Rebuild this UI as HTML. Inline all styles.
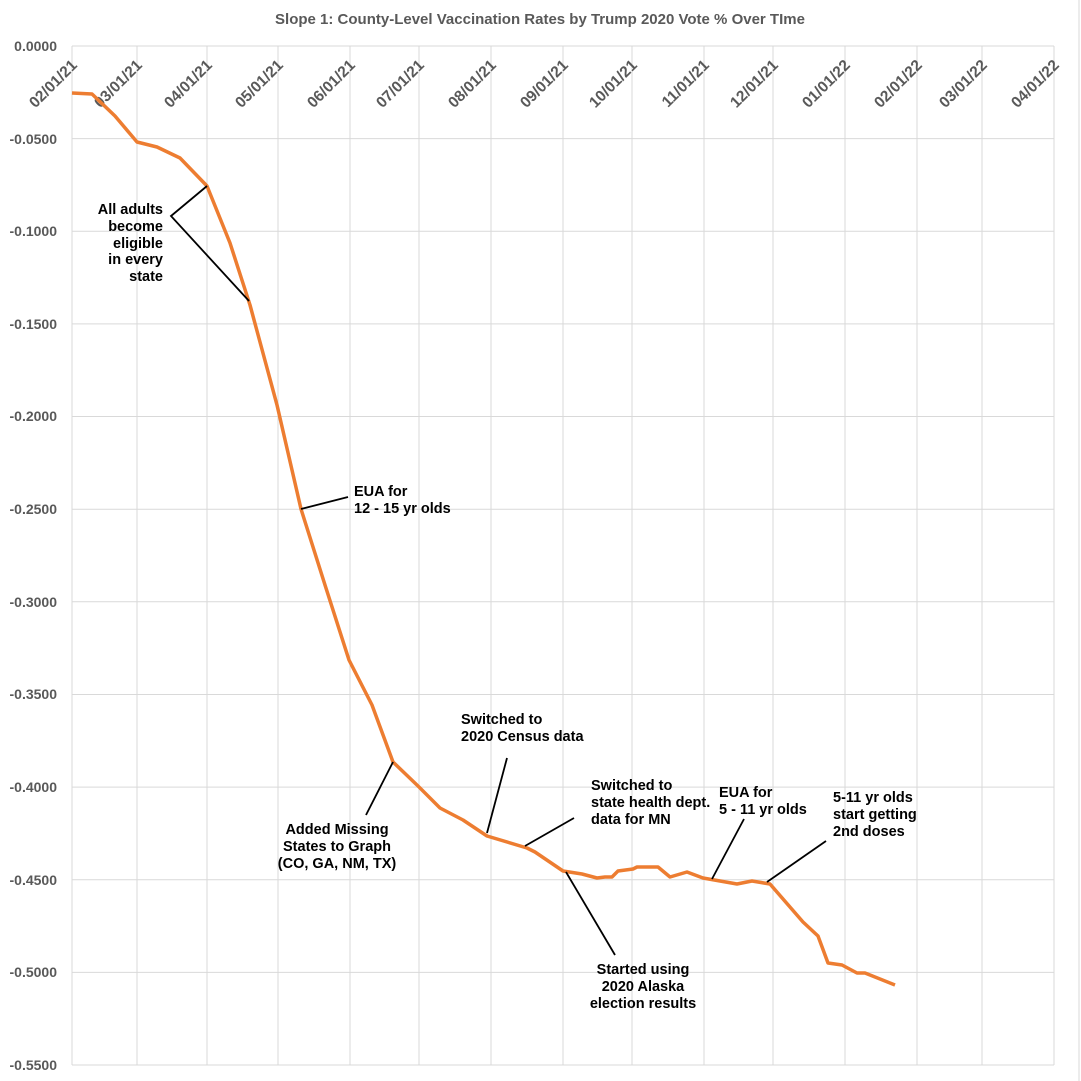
<!DOCTYPE html>
<html><head><meta charset="utf-8"><style>
html,body{margin:0;padding:0;background:#fff}
svg{display:block;font-family:"Liberation Sans",sans-serif}
</style></head><body>
<svg width="1081" height="1081" viewBox="0 0 1081 1081" xmlns="http://www.w3.org/2000/svg">
<rect x="0" y="0" width="1081" height="1081" fill="#fff"/>
<line x1="1079" y1="0" x2="1079" y2="1081" stroke="#d9d9d9" stroke-width="1"/>
<text x="540" y="24" text-anchor="middle" font-size="15" font-weight="bold" fill="#595959">Slope 1: County-Level Vaccination Rates by Trump 2020 Vote % Over TIme</text>
<g stroke="#d9d9d9" stroke-width="1">
<line x1="72" y1="46" x2="1054" y2="46"/><line x1="72" y1="138.6" x2="1054" y2="138.6"/><line x1="72" y1="231.3" x2="1054" y2="231.3"/><line x1="72" y1="323.9" x2="1054" y2="323.9"/><line x1="72" y1="416.5" x2="1054" y2="416.5"/><line x1="72" y1="509.2" x2="1054" y2="509.2"/><line x1="72" y1="601.8" x2="1054" y2="601.8"/><line x1="72" y1="694.5" x2="1054" y2="694.5"/><line x1="72" y1="787.1" x2="1054" y2="787.1"/><line x1="72" y1="879.7" x2="1054" y2="879.7"/><line x1="72" y1="972.4" x2="1054" y2="972.4"/><line x1="72" y1="1065" x2="1054" y2="1065"/>
<line x1="72" y1="46" x2="72" y2="1065"/><line x1="137" y1="46" x2="137" y2="1065"/><line x1="207" y1="46" x2="207" y2="1065"/><line x1="278" y1="46" x2="278" y2="1065"/><line x1="350" y1="46" x2="350" y2="1065"/><line x1="419" y1="46" x2="419" y2="1065"/><line x1="491" y1="46" x2="491" y2="1065"/><line x1="563" y1="46" x2="563" y2="1065"/><line x1="632" y1="46" x2="632" y2="1065"/><line x1="704" y1="46" x2="704" y2="1065"/><line x1="773" y1="46" x2="773" y2="1065"/><line x1="845" y1="46" x2="845" y2="1065"/><line x1="917" y1="46" x2="917" y2="1065"/><line x1="982" y1="46" x2="982" y2="1065"/><line x1="1054" y1="46" x2="1054" y2="1065"/>
</g>
<g font-size="14" font-weight="bold" fill="#595959" text-anchor="end">
<text x="57" y="51">0.0000</text><text x="57" y="144">-0.0500</text><text x="57" y="236">-0.1000</text><text x="57" y="329">-0.1500</text><text x="57" y="421">-0.2000</text><text x="57" y="514">-0.2500</text><text x="57" y="607">-0.3000</text><text x="57" y="699">-0.3500</text><text x="57" y="792">-0.4000</text><text x="57" y="885">-0.4500</text><text x="57" y="977">-0.5000</text><text x="57" y="1070">-0.5500</text>
</g>
<g font-size="15.5" font-weight="bold" fill="#595959" text-anchor="end">
<text transform="translate(78,66) rotate(-45)">02/01/21</text>
<text transform="translate(143,66) rotate(-45)">03/01/21</text>
<text transform="translate(213,66) rotate(-45)">04/01/21</text>
<text transform="translate(284,66) rotate(-45)">05/01/21</text>
<text transform="translate(356,66) rotate(-45)">06/01/21</text>
<text transform="translate(425,66) rotate(-45)">07/01/21</text>
<text transform="translate(497,66) rotate(-45)">08/01/21</text>
<text transform="translate(569,66) rotate(-45)">09/01/21</text>
<text transform="translate(638,66) rotate(-45)">10/01/21</text>
<text transform="translate(710,66) rotate(-45)">11/01/21</text>
<text transform="translate(779,66) rotate(-45)">12/01/21</text>
<text transform="translate(851,66) rotate(-45)">01/01/22</text>
<text transform="translate(923,66) rotate(-45)">02/01/22</text>
<text transform="translate(988,66) rotate(-45)">03/01/22</text>
<text transform="translate(1060,66) rotate(-45)">04/01/22</text>
</g>
<polyline fill="none" stroke="#ed7d31" stroke-width="3.5" stroke-linejoin="round" points="72,93 92,94 115,116 137,142 157,147 180,158 207,186 230,243 250,305 277,405 301,509 325,585 349,660 372,705 393,762 418,786 440,808 463,820 487,836 527,848 535,852 563,871 582,874 597,878 605,877 612,877 618,871 633,869 637,867 658,867 670,877 687,872 703,878 737,884 752,881 770,884 803,922 818,936 828,963 842,965 857,973 865,973 895,985"/>
<g stroke="#000" stroke-width="1.8" fill="none">
<polyline points="207,186 171,216 249,301"/>
<line x1="301" y1="509" x2="348" y2="497"/>
<line x1="393" y1="762" x2="366" y2="815"/>
<line x1="487" y1="833" x2="507" y2="758"/>
<line x1="525" y1="846" x2="574" y2="818"/>
<line x1="566" y1="872" x2="615" y2="955"/>
<line x1="712" y1="879" x2="744" y2="819"/>
<line x1="767" y1="882" x2="826" y2="841"/>
</g>
<g font-size="14.5" font-weight="bold" fill="#000">
<g text-anchor="end"><text x="163" y="214">All adults</text><text x="163" y="231">become</text><text x="163" y="248">eligible</text><text x="163" y="264">in every</text><text x="163" y="281">state</text></g>
<text x="354" y="496">EUA for</text><text x="354" y="513">12 - 15 yr olds</text>
<g text-anchor="middle"><text x="337" y="834">Added Missing</text><text x="337" y="851">States to Graph</text><text x="337" y="868">(CO, GA, NM, TX)</text></g>
<text x="461" y="724">Switched to</text><text x="461" y="741">2020 Census data</text>
<text x="591" y="790">Switched to</text><text x="591" y="807">state health dept.</text><text x="591" y="824">data for MN</text>
<g text-anchor="middle"><text x="643" y="974">Started using</text><text x="643" y="991">2020 Alaska</text><text x="643" y="1008">election results</text></g>
<text x="719" y="797">EUA for</text><text x="719" y="814">5 - 11 yr olds</text>
<text x="833" y="802">5-11 yr olds</text><text x="833" y="819">start getting</text><text x="833" y="836">2nd doses</text>
</g>
</svg>
</body></html>
